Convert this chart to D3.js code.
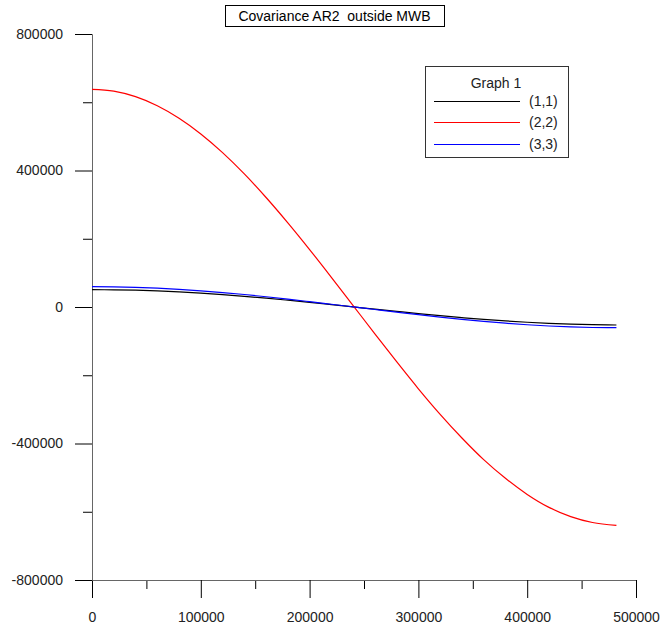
<!DOCTYPE html>
<html>
<head>
<meta charset="utf-8">
<script src="https://cdn.jsdelivr.net/npm/d3@7"></script>
<style>
body { margin: 0; background: #fff; }
text { font-family: "Liberation Sans", Arial, sans-serif; }
</style>
</head>
<body>
<script>
// data
const xs = [0, 20000, 40000, 60000, 80000, 100000, 120000, 140000, 160000, 180000, 200000, 220000,
	240000, 260000, 280000, 300000, 320000, 340000, 360000, 380000, 400000, 420000, 440000, 460000, 482000];
const cov11 = [50700, 50400, 49300, 47300, 44500, 40800, 36400, 31400, 25900, 19900, 13600, 7000,
	300, -6400, -12900, -19300, -25500, -31100, -36300, -40800, -44700, -47900, -50300, -51800, -52700];
const cov22 = [638000, 632500, 616400, 589800, 553200, 507200, 452500, 390100, 320900, 246600, 168300, 87100,
	4200, -78700, -160300, -239600, -314500, -383800, -447200, -502000, -549200, -587200, -614100, -631400, -640000];
const cov33 = [59500, 59000, 57600, 55200, 51800, 47500, 42400, 36600, 30100, 23100, 15700, 8100,
	400, -7400, -15100, -22600, -29700, -36300, -42300, -47500, -52000, -55700, -58400, -60000, -60700];
const seriesNames = ["(1,1)", "(2,2)", "(3,3)"];
const seriesColors = ["#000000", "#ff0000", "#0000ff"];
const xMajor = [0, 100000, 200000, 300000, 400000, 500000];
const xMinor = [50000, 150000, 250000, 350000, 450000];
const yMajor = [-800000, -400000, 0, 400000, 800000];
const yMinor = [-600000, -200000, 200000, 600000];

const width = 661, height = 625;
const svg = d3.select("body").append("svg")
	.attr("width", width)
	.attr("height", height);

const x = d3.scaleLinear().domain([0, 500000]).range([92, 636]);
const y = d3.scaleLinear().domain([-800000, 800000]).range([580, 34]);

// plain hyphen for negatives, like the original
const fmt = d => String(d);

// axes
function styleAxis(g) {
	g.select(".domain").attr("stroke", "#666");
	g.selectAll(".tick line").attr("stroke", "#000");
	g.selectAll(".tick text")
		.attr("fill", "#222")
		.style("font-size", "14px")
		.style("font-family", "Liberation Sans, Arial, sans-serif");
}

svg.append("g")
	.attr("transform", "translate(0,580)")
	.call(d3.axisBottom(x).tickValues(xMinor).tickSize(9).tickSizeOuter(0).tickFormat(""))
	.call(styleAxis);
svg.append("g")
	.attr("transform", "translate(0,580)")
	.call(d3.axisBottom(x).tickValues(xMajor).tickSize(18).tickSizeOuter(0).tickPadding(14).tickFormat(fmt))
	.call(styleAxis);

svg.append("g")
	.attr("transform", "translate(92,0)")
	.call(d3.axisLeft(y).tickValues(yMinor).tickSize(9).tickSizeOuter(0).tickFormat(""))
	.call(styleAxis);
svg.append("g")
	.attr("transform", "translate(92,0)")
	.call(d3.axisLeft(y).tickValues(yMajor).tickSize(17).tickSizeOuter(0).tickPadding(12).tickFormat(fmt))
	.call(styleAxis);

// curves
const line = d3.line().x(d => x(d[0])).y(d => y(d[1])).curve(d3.curveMonotoneX);
const series = [cov11, cov22, cov33];
series.forEach((vals, i) => {
	svg.append("path")
		.datum(xs.map((xv, j) => [xv, vals[j]]))
		.attr("fill", "none")
		.attr("stroke", seriesColors[i])
		.attr("stroke-width", 1.2)
		.attr("d", line);
});

// title box
const title = svg.append("g");
title.append("rect")
	.attr("x", 225.5).attr("y", 5.5)
	.attr("width", 219).attr("height", 21)
	.attr("fill", "#fff").attr("stroke", "#000");
title.append("text")
	.attr("x", 334.5).attr("y", 21)
	.attr("text-anchor", "middle")
	.style("font-size", "14px")
	.style("white-space", "pre")
	.text("Covariance AR2  outside MWB");

// legend
const legend = svg.append("g");
legend.append("rect")
	.attr("x", 425.5).attr("y", 66.5)
	.attr("width", 143).attr("height", 91)
	.attr("fill", "#fff").attr("stroke", "#333");
legend.append("text")
	.attr("x", 496).attr("y", 88)
	.attr("text-anchor", "middle")
	.style("font-size", "14px")
	.attr("fill", "#222")
	.text("Graph 1");
const legY = [101, 122, 144];
seriesNames.forEach((name, i) => {
	legend.append("line")
		.attr("x1", 434).attr("x2", 520)
		.attr("y1", legY[i] + 0.5).attr("y2", legY[i] + 0.5)
		.attr("stroke", seriesColors[i]);
	legend.append("text")
		.attr("x", 529).attr("y", legY[i] + 5)
		.style("font-size", "14px")
		.attr("fill", "#222")
		.text(name);
});
</script>
</body>
</html>
